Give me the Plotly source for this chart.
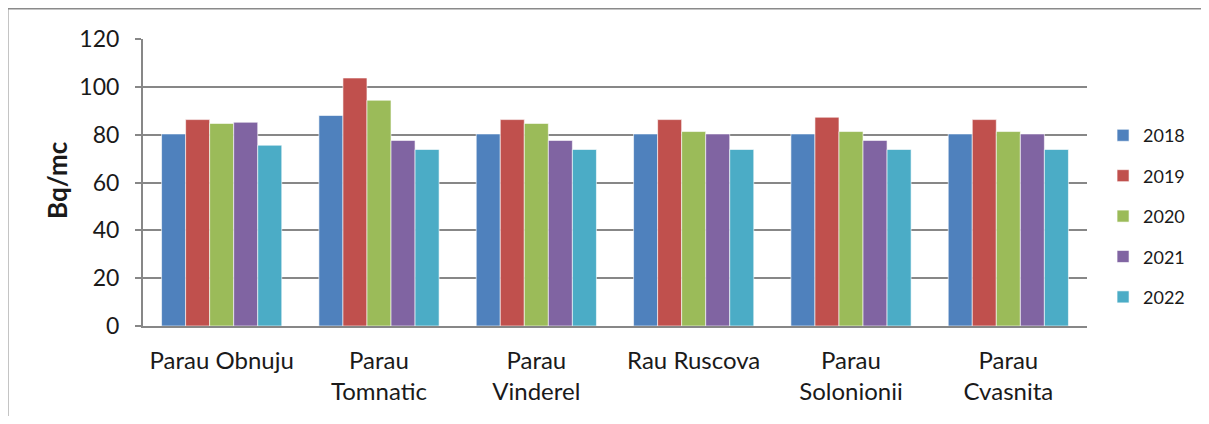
import plotly.graph_objects as go

categories = ["Parau Obnuju", "Parau<br>Tomnatic", "Parau<br>Vinderel", "Rau Ruscova",
              "Parau<br>Solonionii", "Parau<br>Cvasnita"]
years = ["2018", "2019", "2020", "2021", "2022"]
v2018 = [80.3, 88.0, 80.3, 80.3, 80.3, 80.3]
v2019 = [86.3, 103.7, 86.3, 86.3, 87.3, 86.3]
v2020 = [84.7, 94.4, 84.7, 81.3, 81.3, 81.3]
v2021 = [85.2, 77.6, 77.6, 80.3, 77.6, 80.3]
v2022 = [75.6, 73.8, 73.8, 73.8, 73.8, 73.8]
series = [v2018, v2019, v2020, v2021, v2022]
colors = ["#4F81BD", "#C0504D", "#9BBB59", "#8064A2", "#4BACC6"]

FONT = "Lato"
GRID = "#878787"
TXT = "#1a1a1a"

fig = go.Figure()
for name, vals, col in zip(years, series, colors):
    fig.add_trace(go.Bar(
        x=categories, y=vals, name=name, legendgroup=name,
        marker=dict(color=col, line=dict(color="rgba(255,255,255,0.6)", width=1)),
    ))

bx = (7.5 - 143) / 944
by = (326 - 8.5) / 287
fig.update_layout(
    width=1193, height=408,
    margin=dict(l=135, r=114, t=31, b=90, autoexpand=False),
    paper_bgcolor="white", plot_bgcolor="white",
    barmode="group", bargap=0.236, bargroupgap=0,
    font=dict(family=FONT, color=TXT),
    showlegend=True,
    legend=dict(x=1.017, xanchor="left", y=0.383, yanchor="middle",
                font=dict(family=FONT, size=18, color=TXT),
                tracegroupgap=14, itemwidth=30),
    xaxis=dict(showline=True, linecolor=GRID, linewidth=2, ticks="",
               tickfont=dict(family=FONT, size=24, color=TXT),
               ticklabelstandoff=12, showgrid=False),
    yaxis=dict(range=[0, 120], dtick=20, showgrid=True, gridcolor=GRID, gridwidth=2,
               showline=True, linecolor=GRID, linewidth=2,
               ticks="outside", ticklen=6, tickcolor=GRID, tickwidth=2,
               tickfont=dict(family=FONT, size=23, color=TXT),
               ticklabelstandoff=11, zeroline=False),
    annotations=[dict(text="<b>Bq/mc</b>", textangle=-90, xref="paper", yref="paper",
                      x=(57 - 143) / 944, y=(326 - 180) / 287, xanchor="center", yanchor="middle",
                      showarrow=False, font=dict(family=FONT, size=26, color=TXT))],
    shapes=[
        dict(type="line", xref="paper", yref="paper", x0=bx, x1=(1193 - 135) / 944, y0=by, y1=by,
             line=dict(color="#8a8a8a", width=2), layer="below"),
        dict(type="line", xref="paper", yref="paper", x0=bx, x1=bx, y0=by, y1=-0.34,
             line=dict(color="#8a8a8a", width=2), layer="below"),
    ],
)

fig.write_html(
    "out.html",
    post_script="document.body.style.overflow='hidden';document.documentElement.style.overflow='hidden';",
)
